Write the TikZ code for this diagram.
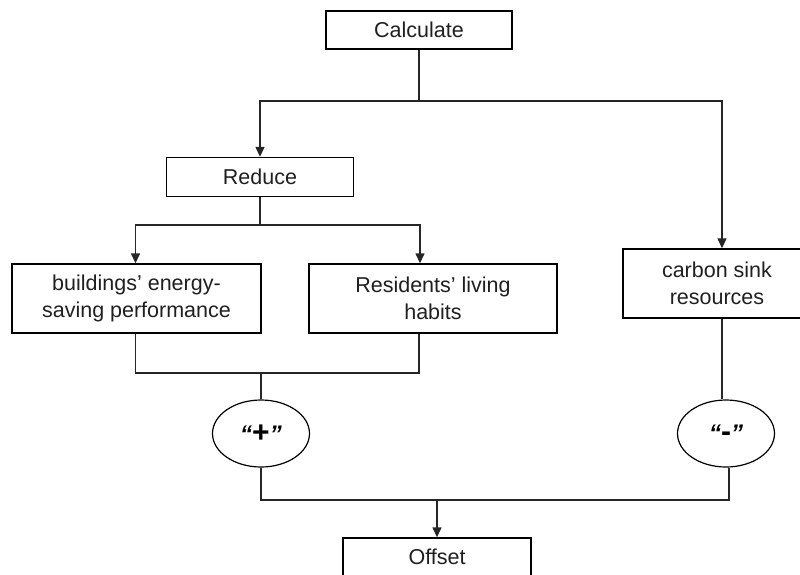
\documentclass[tikz,border=0pt]{standalone}
\usepackage{fontspec}
\setmainfont{Liberation Sans}
\usetikzlibrary{shapes.geometric,arrows.meta,calc}
\begin{document}
\begin{tikzpicture}[x=1pt,y=-1pt,
  line width=1.4pt,
  box/.style={draw, rectangle, line width=1.4pt, inner sep=0pt, align=center,
    font=\fontsize{21.5}{26.5}\selectfont, text=black!88},
  oval/.style={draw, ellipse, line width=1.2pt, inner sep=0pt,
    font=\fontsize{24}{28}\selectfont\bfseries},
  arr/.style={-{Triangle[length=10pt,width=9pt]}},
  conn/.style={line width=1.4pt, black!85}]
\useasboundingbox (0,0) rectangle (800,574);
\node[box, minimum width=186pt, minimum height=38pt] (calc) at (419,30) {Calculate};
\node[box, minimum width=187pt, minimum height=39pt] (reduce) at (260,177) {Reduce};
\node[box, minimum width=249pt, minimum height=69pt] (build) at (136.5,298.5) {buildings’ energy-\\saving performance};
\node[box, minimum width=248pt, minimum height=69pt] (resid) at (433,298.5) {Residents’ living\\habits};
\node[box, minimum width=188pt, minimum height=69pt] (sink) at (717,283.5) {carbon sink\\resources};
\node[oval, minimum width=97pt, minimum height=67pt] (plus) at (261,433.5) {\textit{“}{\fontsize{30}{30}\selectfont +}\textit{”}};
\node[oval, minimum width=97pt, minimum height=67pt] (minus) at (726,433.5) {\textit{“}{\fontsize{30}{30}\selectfont -}\textit{”}};
\node[box, minimum width=188pt, minimum height=38pt] (offset) at (437,557) {Offset};
\coordinate (jA) at (419,101);
\coordinate (jB) at (260,225);
\coordinate (jC) at (261,373);
\coordinate (jD) at (437,500);
\draw[conn] (calc.south) -- (jA);
\draw[conn,arr] (jA) -| (reduce.north);
\draw[conn,arr] (jA) -| ($(sink.north)+(5,0)$);
\draw[conn] (reduce.south) -- (jB);
\draw[conn,arr] (jB) -| ($(build.north)+(-1,0)$);
\draw[conn,arr] (jB) -| ($(resid.north)+(-13,0)$);
\draw[conn] ($(build.south)+(-1,0)$) |- (jC);
\draw[conn] ($(resid.south)+(-14,0)$) |- (jC);
\draw[conn] (jC) -- (plus.north);
\draw[conn] ($(sink.south)+(5,0)$) -- ($(minus.north)+(-4,0)$);
\draw[conn] (plus.south) |- (jD);
\draw[conn] ($(minus.south)+(3,0)$) |- (jD);
\draw[conn,arr] (jD) -- (offset.north);
\end{tikzpicture}
\end{document}
